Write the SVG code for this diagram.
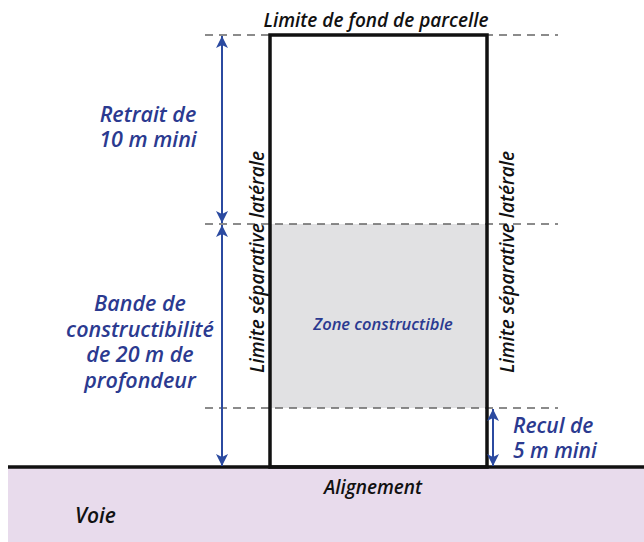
<svg xmlns="http://www.w3.org/2000/svg" width="644" height="542" viewBox="0 0 644 542">
<style>
.dash{stroke:#666;stroke-width:1.3;stroke-dasharray:8 6;fill:none}
.dim{stroke:#2b4aa0;stroke-width:2;fill:none}
.blue{font-family:"Open Sans","Liberation Sans",sans-serif;font-style:italic;font-weight:600;fill:#2b3a90}
.blk{font-family:"Open Sans","Liberation Sans",sans-serif;font-style:italic;font-weight:600;fill:#111}
.mid{text-anchor:middle}
</style>
<defs>
<marker id="ah" viewBox="0 0 12 12" refX="12" refY="6" markerWidth="12" markerHeight="12" markerUnits="userSpaceOnUse" orient="auto-start-reverse">
<path d="M0,0 L12,6 L0,12 L3,6 Z" fill="#2b4aa0"/>
</marker>
</defs>
<rect id="voie" x="8" y="467" width="636" height="75" fill="#e8dbec"/>
<g id="zone">
<rect x="270" y="224" width="217" height="184" fill="#e1e1e3"/>
<text class="blue mid" x="383" y="330" font-size="16.5" font-weight="400">Zone constructible</text>
</g>
<g id="guides">
<line class="dash" x1="205" y1="35" x2="558" y2="35"/>
<line class="dash" x1="205" y1="224" x2="558" y2="224"/>
<line class="dash" x1="205" y1="408" x2="558" y2="408"/>
</g>
<g id="parcelle">
<rect x="270" y="35" width="217" height="432" fill="none" stroke="#111" stroke-width="3.5"/>
</g>
<line id="alignement" x1="8" y1="467" x2="644" y2="467" stroke="#111" stroke-width="3.5"/>
<g id="connectors">
<line class="dim" x1="222" y1="36" x2="222" y2="223" marker-start="url(#ah)" marker-end="url(#ah)"/>
<line class="dim" x1="222" y1="225" x2="222" y2="466" marker-start="url(#ah)" marker-end="url(#ah)"/>
<line class="dim" x1="493" y1="409" x2="493" y2="466" marker-start="url(#ah)" marker-end="url(#ah)"/>
</g>
<g id="labels">
<text class="blk mid" x="376" y="27" font-size="19">Limite de fond de parcelle</text>
<text class="blue mid" font-size="21.5"><tspan x="148" y="122">Retrait de</tspan><tspan x="148" y="147">10 m mini</tspan></text>
<text class="blue mid" font-size="21.5"><tspan x="140" y="311">Bande de</tspan><tspan x="140" y="337">constructibilité</tspan><tspan x="140" y="362">de 20 m de</tspan><tspan x="140" y="388">profondeur</tspan></text>
<text class="blue" font-size="21"><tspan x="513" y="433">Recul de</tspan><tspan x="513" y="458">5 m mini</tspan></text>
<text class="blk mid" x="264" y="262" font-size="19" transform="rotate(-90 264 262)">Limite séparative latérale</text>
<text class="blk mid" x="514" y="262" font-size="19" transform="rotate(-90 514 262)">Limite séparative latérale</text>
<text class="blk mid" x="373" y="494" font-size="19">Alignement</text>
<text class="blk" x="75" y="523" font-size="21">Voie</text>
</g>
</svg>
